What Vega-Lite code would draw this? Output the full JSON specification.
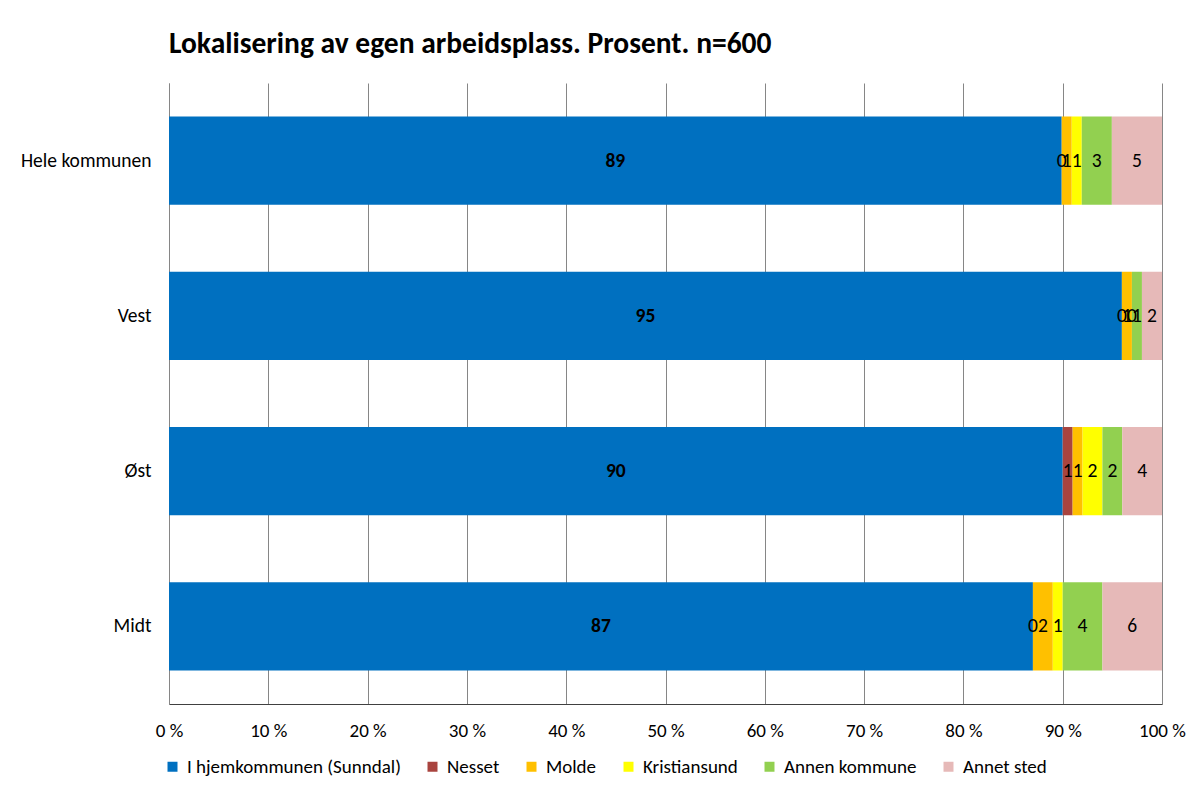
{
  "$schema": "https://vega.github.io/schema/vega-lite/v6.json",
  "width": 993,
  "height": 621,
  "autosize": {"type": "none"},
  "padding": {"left": 169, "top": 83, "right": 30, "bottom": 83},
  "background": "white",
  "title": {
    "text": "Lokalisering av egen arbeidsplass. Prosent. n=600",
    "anchor": "start",
    "frame": "group",
    "offset": 24,
    "font": "Carlito, Lato",
    "fontSize": 29.5,
    "fontWeight": "bold",
    "color": "#000000"
  },
  "config": {
    "view": {"stroke": null},
    "font": "Carlito, Lato",
    "text": {"font": "Carlito, Lato"}
  },
  "data": {
    "values": [
      {"omrade": "Hele kommunen", "kategori": "I hjemkommunen (Sunndal)", "ord": 1, "verdi": 89},
      {"omrade": "Hele kommunen", "kategori": "Nesset", "ord": 2, "verdi": 0},
      {"omrade": "Hele kommunen", "kategori": "Molde", "ord": 3, "verdi": 1},
      {"omrade": "Hele kommunen", "kategori": "Kristiansund", "ord": 4, "verdi": 1},
      {"omrade": "Hele kommunen", "kategori": "Annen kommune", "ord": 5, "verdi": 3},
      {"omrade": "Hele kommunen", "kategori": "Annet sted", "ord": 6, "verdi": 5},
      {"omrade": "Vest", "kategori": "I hjemkommunen (Sunndal)", "ord": 1, "verdi": 95},
      {"omrade": "Vest", "kategori": "Nesset", "ord": 2, "verdi": 0},
      {"omrade": "Vest", "kategori": "Molde", "ord": 3, "verdi": 1},
      {"omrade": "Vest", "kategori": "Kristiansund", "ord": 4, "verdi": 0},
      {"omrade": "Vest", "kategori": "Annen kommune", "ord": 5, "verdi": 1},
      {"omrade": "Vest", "kategori": "Annet sted", "ord": 6, "verdi": 2},
      {"omrade": "Øst", "kategori": "I hjemkommunen (Sunndal)", "ord": 1, "verdi": 90},
      {"omrade": "Øst", "kategori": "Nesset", "ord": 2, "verdi": 1},
      {"omrade": "Øst", "kategori": "Molde", "ord": 3, "verdi": 1},
      {"omrade": "Øst", "kategori": "Kristiansund", "ord": 4, "verdi": 2},
      {"omrade": "Øst", "kategori": "Annen kommune", "ord": 5, "verdi": 2},
      {"omrade": "Øst", "kategori": "Annet sted", "ord": 6, "verdi": 4},
      {"omrade": "Midt", "kategori": "I hjemkommunen (Sunndal)", "ord": 1, "verdi": 87},
      {"omrade": "Midt", "kategori": "Nesset", "ord": 2, "verdi": 0},
      {"omrade": "Midt", "kategori": "Molde", "ord": 3, "verdi": 2},
      {"omrade": "Midt", "kategori": "Kristiansund", "ord": 4, "verdi": 1},
      {"omrade": "Midt", "kategori": "Annen kommune", "ord": 5, "verdi": 4},
      {"omrade": "Midt", "kategori": "Annet sted", "ord": 6, "verdi": 6}
    ]
  },
  "encoding": {
    "y": {
      "field": "omrade",
      "type": "nominal",
      "sort": ["Hele kommunen", "Vest", "Øst", "Midt"],
      "scale": {"paddingInner": 0.43, "paddingOuter": 0.215},
      "axis": {
        "title": null,
        "ticks": false,
        "domain": true,
        "domainColor": "#868686",
        "labelPadding": 18,
        "labelFontSize": 19.5,
        "labelColor": "#000000",
        "labelFont": "Carlito, Lato",
        "labelLimit": 0
      }
    },
    "x": {
      "field": "verdi",
      "type": "quantitative",
      "stack": "normalize",
      "scale": {"domain": [0, 1]},
      "axis": {
        "title": null,
        "values": [0, 0.1, 0.2, 0.3, 0.4, 0.5, 0.6, 0.7, 0.8, 0.9, 1],
        "labelExpr": "round(datum.value * 100) + ' %'",
        "ticks": false,
        "grid": true,
        "gridColor": "#868686",
        "gridWidth": 1,
        "domainColor": "#404040",
        "labelPadding": 17,
        "labelFontSize": 19,
        "labelColor": "#000000",
        "labelFont": "Carlito, Lato",
        "labelFlush": false
      }
    },
    "order": {"field": "ord", "type": "quantitative"}
  },
  "layer": [
    {
      "mark": {"type": "bar"},
      "encoding": {
        "color": {
          "field": "kategori",
          "type": "nominal",
          "sort": ["I hjemkommunen (Sunndal)", "Nesset", "Molde", "Kristiansund", "Annen kommune", "Annet sted"],
          "scale": {
            "domain": ["I hjemkommunen (Sunndal)", "Nesset", "Molde", "Kristiansund", "Annen kommune", "Annet sted"],
            "range": ["#0070C0", "#A9443F", "#FFC000", "#FFFF00", "#92D050", "#E6B9B8"]
          },
          "legend": {
            "title": null,
            "orient": "none",
            "direction": "horizontal",
            "legendX": -6,
            "legendY": 674,
            "symbolType": "square",
            "symbolSize": 100,
            "symbolStrokeWidth": 0,
            "labelFontSize": 19,
            "labelFont": "Carlito, Lato",
            "labelColor": "#000000",
            "labelLimit": 0,
            "labelOffset": 5,
            "columnPadding": 22
          }
        }
      }
    },
    {
      "mark": {"type": "text", "fontSize": 19.5, "color": "#000000", "font": "Carlito, Lato"},
      "encoding": {
        "x": {"field": "verdi", "type": "quantitative", "stack": "normalize", "bandPosition": 0.5},
        "text": {"field": "verdi", "type": "quantitative", "format": ".0f"},
        "opacity": {"condition": {"test": "datum.ord === 1", "value": 0}, "value": 1}
      }
    },
    {
      "mark": {"type": "text", "fontSize": 19.5, "fontWeight": "bold", "color": "#000000", "font": "Carlito, Lato"},
      "encoding": {
        "x": {"field": "verdi", "type": "quantitative", "stack": "normalize", "bandPosition": 0.5},
        "text": {"field": "verdi", "type": "quantitative", "format": ".0f"},
        "opacity": {"condition": {"test": "datum.ord === 1", "value": 1}, "value": 0}
      }
    }
  ]
}
